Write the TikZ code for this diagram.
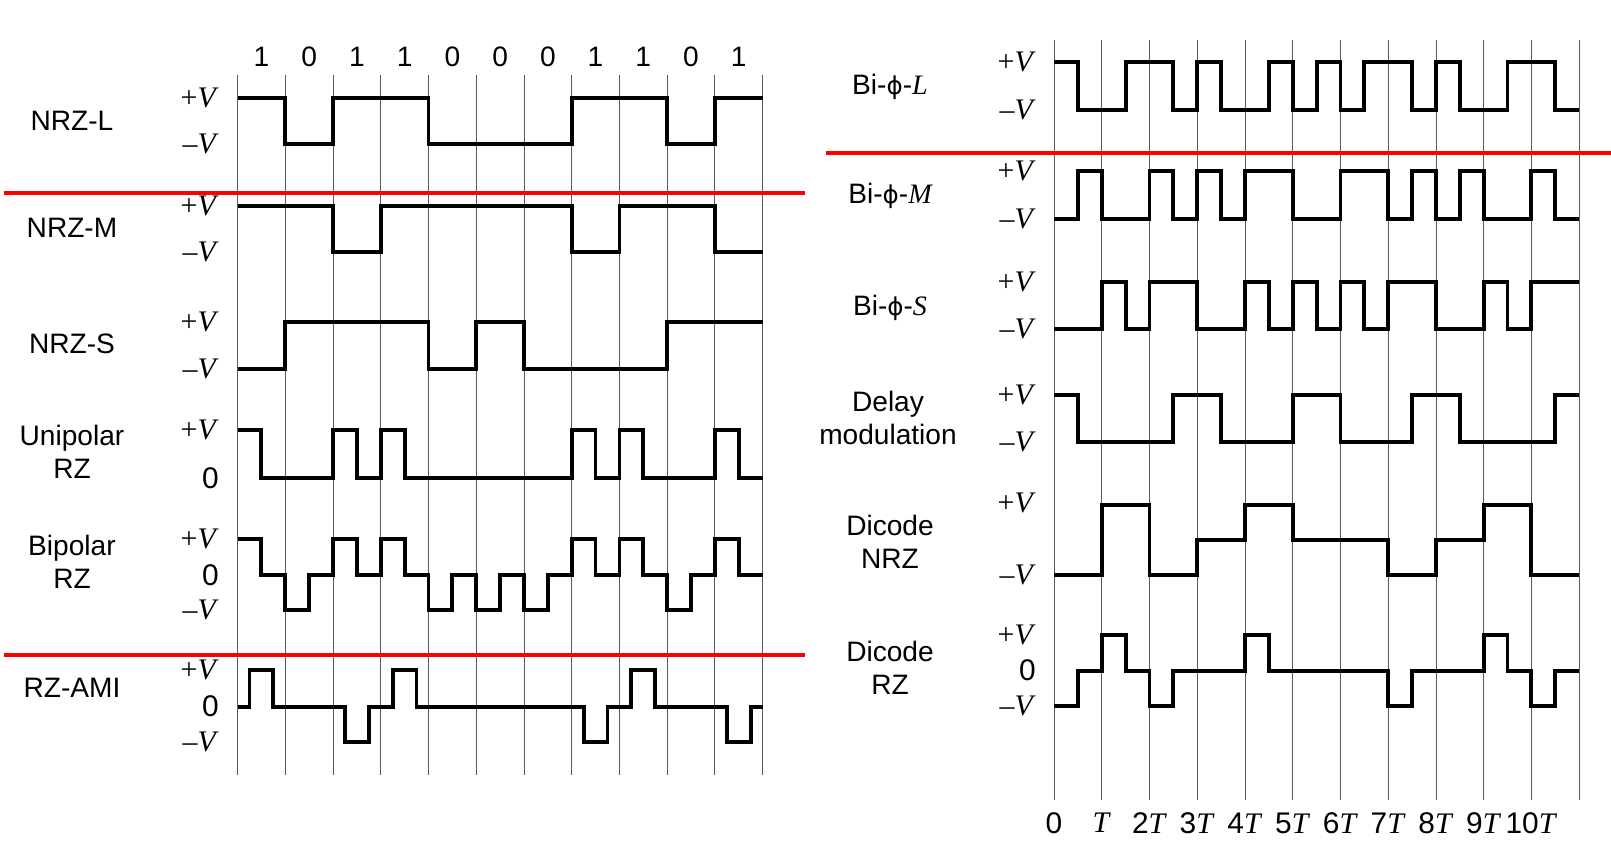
\documentclass[tikz,border=0pt]{standalone}
\usepackage{fontspec}
\setmainfont{Liberation Sans}
\newfontfamily\serifV{Liberation Serif}
\newfontfamily\phifont{DejaVu Sans}
\usepackage{tikz}

\newcommand{\pV}{{\serifV+\textit{V}}}
\newcommand{\mV}{{\serifV–\textit{V}}}
\newcommand{\tT}{{\serifV\textit{T}}}
\newcommand{\bph}{{\phifont\fontsize{14}{17}\selectfont ϕ}}

\begin{document}
\begin{tikzpicture}[
    x=0.02cm,y=-0.02cm,
    wave/.style={line width=2.2pt,line join=miter},
    gridline/.style={gray!70!black,line width=0.5pt},
    sepline/.style={red,line width=2.5pt},
    code/.style={align=center,font=\fontsize{16}{19}\selectfont},
    lvl/.style={anchor=east,inner sep=0pt,font=\fontsize{17}{20}\selectfont},
    bitlbl/.style={font=\fontsize{16}{19}\selectfont},
    tlbl/.style={font=\fontsize{17}{20}\selectfont}
  ]
  \useasboundingbox (0,0) rectangle (1611,851);

  % left panel
  \begin{scope}[shift={(237.5,0)},x=0.955cm]
    \foreach \i in {0,...,11}
      \draw[gridline] (\i,75) -- (\i,775);
    \foreach \b [count=\i from 0] in {1,0,1,1,0,0,0,1,1,0,1}
      \node[bitlbl] (bit\i) at (\i+0.5,56.5) {\b};
    % NRZ-L
    \draw[wave] (0,97.7) -| (1,144) -| (2,97.7) -| (4,144) -| (7,97.7) -| (9,144) -| (10,97.7) -- (11,97.7);
    % NRZ-M
    \draw[wave] (0,205.7) -| (2,251.7) -| (3,205.7) -| (7,251.7) -| (8,205.7) -| (10,251.7) -- (11,251.7);
    % NRZ-S
    \draw[wave] (0,369) -| (1,321.7) -| (4,369) -| (5,321.7) -| (6,369) -| (9,321.7) -- (11,321.7);
    % unipolar RZ
    \draw[wave] (0,430) -| (0.5,478.3) -| (2,430) -| (2.5,478.3) -| (3,430) -| (3.5,478.3) -| (7,430) -| (7.5,478.3)
      -| (8,430) -| (8.5,478.3) -| (10,430) -| (10.5,478.3) -- (11,478.3);
    % bipolar RZ
    \draw[wave] (0,539.3) -| (0.5,575) -| (1,610) -| (1.5,575) -| (2,539.3) -| (2.5,575) -| (3,539.3) -| (3.5,575)
      -| (4,610) -| (4.5,575) -| (5,610) -| (5.5,575) -| (6,610) -| (6.5,575) -| (7,539.3) -| (7.5,575)
      -| (8,539.3) -| (8.5,575) -| (9,610) -| (9.5,575) -| (10,539.3) -| (10.5,575) -- (11,575);
    % RZ-AMI
    \draw[wave] (0,706.7) -| (0.25,670) -| (0.75,706.7) -| (2.25,741.7) -| (2.75,706.7) -| (3.25,670) -| (3.75,706.7)
      -| (7.25,741.7) -| (7.75,706.7) -| (8.25,670) -| (8.75,706.7) -| (10.25,741.7) -| (10.75,706.7) -- (11,706.7);
  \end{scope}

  \node[code] (nrzl) at (72,120.7) {NRZ-L};
  \node[code] (nrzm) at (72,228) {NRZ-M};
  \node[code] (nrzs) at (72,344) {NRZ-S};
  \node[code] (unirz) at (72,452) {Unipolar\\RZ};
  \node[code] (biprz) at (72,562) {Bipolar\\RZ};
  \node[code] (rzami) at (72,688) {RZ-AMI};

  \node[lvl] (nrzl+) at (219,97.7) {\pV};
  \node[lvl] (nrzl-) at (219,144) {\mV};
  \node[lvl] (nrzm+) at (219,205.7) {\pV};
  \node[lvl] (nrzm-) at (219,251.7) {\mV};
  \node[lvl] (nrzs+) at (219,321.7) {\pV};
  \node[lvl] (nrzs-) at (219,369) {\mV};
  \node[lvl] (unirz+) at (219,430) {\pV};
  \node[lvl] (unirz0) at (219,478.3) {0};
  \node[lvl] (biprz+) at (219,539.3) {\pV};
  \node[lvl] (biprz0) at (219,575) {0};
  \node[lvl] (biprz-) at (219,610) {\mV};
  \node[lvl] (rzami+) at (219,670) {\pV};
  \node[lvl] (rzami0) at (219,706.7) {0};
  \node[lvl] (rzami-) at (219,741.7) {\mV};

  \draw[sepline] (4,193.3) -- (804.5,193.3);
  \draw[sepline] (4,655) -- (804.5,655);

  % right panel
  \begin{scope}[shift={(1054,0)},x=0.955cm]
    \foreach \i in {0,...,11}
      \draw[gridline] (\i,40) -- (\i,800);
    \foreach \t [count=\i from 0] in {0,\tT,2\tT,3\tT,4\tT,5\tT,6\tT,7\tT,8\tT,9\tT,10\tT}
      \node[tlbl] (t\i) at (\i,823) {\t};
    % Bi-phi-L
    \draw[wave] (0,61.7) -| (0.5,110) -| (1.5,61.7) -| (2.5,110) -| (3,61.7) -| (3.5,110) -| (4.5,61.7) -| (5,110)
      -| (5.5,61.7) -| (6,110) -| (6.5,61.7) -| (7.5,110) -| (8,61.7) -| (8.5,110) -| (9.5,61.7) -| (10.5,110) -- (11,110);
    % Bi-phi-M
    \draw[wave] (0,219) -| (0.5,171) -| (1,219) -| (2,171) -| (2.5,219) -| (3,171) -| (3.5,219) -| (4,171) -| (5,219)
      -| (6,171) -| (7,219) -| (7.5,171) -| (8,219) -| (8.5,171) -| (9,219) -| (10,171) -| (10.5,219) -- (11,219);
    % Bi-phi-S
    \draw[wave] (0,329) -| (1,281.7) -| (1.5,329) -| (2,281.7) -| (3,329) -| (4,281.7) -| (4.5,329) -| (5,281.7)
      -| (5.5,329) -| (6,281.7) -| (6.5,329) -| (7,281.7) -| (8,329) -| (9,281.7) -| (9.5,329) -| (10,281.7) -- (11,281.7);
    % delay modulation
    \draw[wave] (0,395) -| (0.5,442.3) -| (2.5,395) -| (3.5,442.3) -| (5,395) -| (6,442.3) -| (7.5,395) -| (8.5,442.3)
      -| (10.5,395) -- (11,395);
    % dicode NRZ
    \draw[wave] (0,575) -| (1,505) -| (2,575) -| (3,540) -| (4,505) -| (5,540) -| (7,575) -| (8,540) -| (9,505)
      -| (10,575) -- (11,575);
    % dicode RZ
    \draw[wave] (0,705.7) -| (0.5,670.7) -| (1,635) -| (1.5,670.7) -| (2,705.7) -| (2.5,670.7) -| (4,635) -| (4.5,670.7)
      -| (7,705.7) -| (7.5,670.7) -| (9,635) -| (9.5,670.7) -| (10,705.7) -| (10.5,670.7) -- (11,670.7);
  \end{scope}

  \node[code,anchor=base] (biphl) at (890,95) {Bi-\bph-{\serifV\itshape L}};
  \node[code,anchor=base] (biphm) at (890,203) {Bi-\bph-{\serifV\itshape M}};
  \node[code,anchor=base] (biphs) at (890,315) {Bi-\bph-{\serifV\itshape S}};
  \node[code] (delay) at (888,418) {Delay\\modulation};
  \node[code] (dinrz) at (890,541.5) {Dicode\\NRZ};
  \node[code] (dirz) at (890,668) {Dicode\\RZ};

  \node[lvl] (biphl+) at (1036,61.7) {\pV};
  \node[lvl] (biphl-) at (1036,110) {\mV};
  \node[lvl] (biphm+) at (1036,171) {\pV};
  \node[lvl] (biphm-) at (1036,219) {\mV};
  \node[lvl] (biphs+) at (1036,281.7) {\pV};
  \node[lvl] (biphs-) at (1036,329) {\mV};
  \node[lvl] (delay+) at (1036,395) {\pV};
  \node[lvl] (delay-) at (1036,442.3) {\mV};
  \node[lvl] (dinrz+) at (1036,503) {\pV};
  \node[lvl] (dinrz-) at (1036,575) {\mV};
  \node[lvl] (dirz+) at (1036,635) {\pV};
  \node[lvl] (dirz0) at (1036,670.7) {0};
  \node[lvl] (dirz-) at (1036,705.7) {\mV};

  \draw[sepline] (826,152.7) -- (1611,152.7);
\end{tikzpicture}
\end{document}
